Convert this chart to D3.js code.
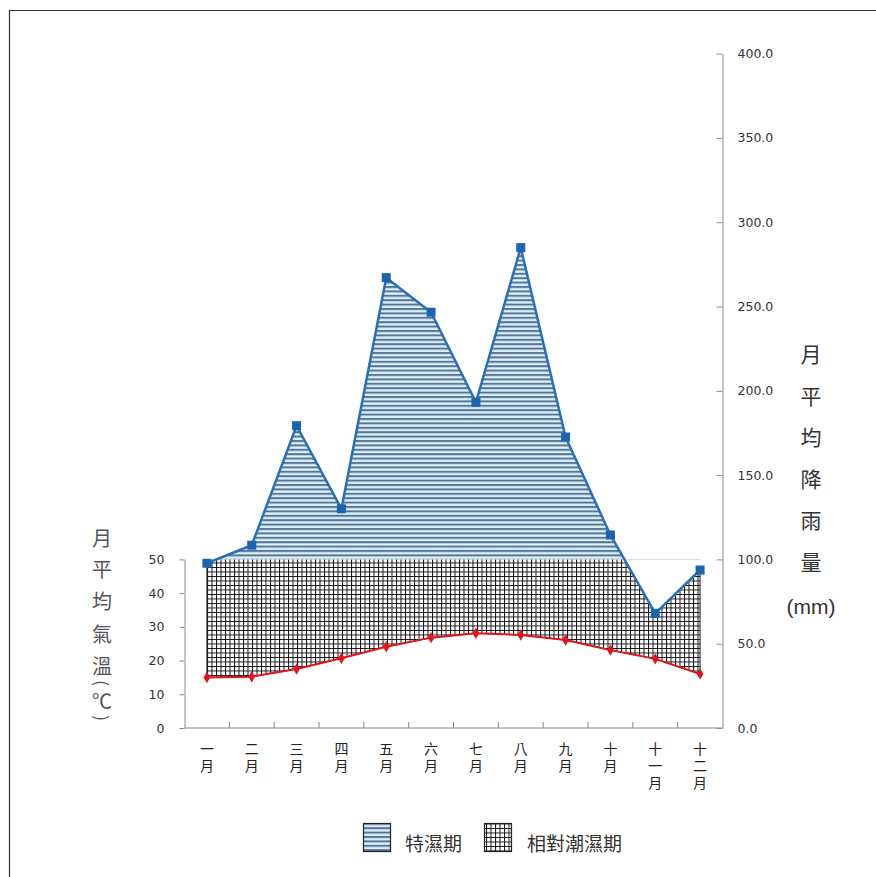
<!DOCTYPE html>
<html>
<head>
<meta charset="utf-8">
<script src="https://cdn.jsdelivr.net/npm/d3@7"></script>
<style>
  html, body { margin: 0; padding: 0; background: #fff; }
  svg { display: block; }
</style>
</head>
<body>
<div id="main"></div>
<script>
// data
const months = ['一月', '二月', '三月', '四月', '五月', '六月', '七月', '八月', '九月', '十月', '十一月', '十二月']
const rainfall = [97.7, 108.4, 179.3, 130.0, 267.1, 246.6, 193.2, 284.9, 172.6, 114.5, 68.0, 93.7]
const temperature = [15.0, 15.2, 17.5, 20.7, 24.1, 26.8, 28.1, 27.6, 26.1, 23.1, 20.5, 16.0]
const rainTicks = [0, 50, 100, 150, 200, 250, 300, 350, 400]
const tempTicks = [0, 10, 20, 30, 40, 50]
const wetLine = 100 // mm, equals 50 °C on the left scale
const leftTitle = ['月', '平', '均', '氣', '溫', '(', '℃', ')']
const rightTitle = ['月', '平', '均', '降', '雨', '量']
const legendItems = ['特濕期', '相對潮濕期']

const width = 876
const height = 877
const cjk = '"Noto Sans CJK TC", "Noto Sans CJK SC", sans-serif'
const num = '"DejaVu Sans", Verdana, sans-serif'

const svg = d3.select('#main').append('svg')
  .attr('width', width)
  .attr('height', height)

// frame, only top and left edges show in the picture
svg.append('path')
  .attr('d', `M9.5,${height} V10.5 H${width}`)
  .attr('fill', 'none')
  .attr('stroke', '#333')
  .attr('stroke-width', 1.2)

const defs = svg.append('defs')

// horizontal stripes
const stripes = defs.append('pattern')
  .attr('id', 'stripes')
  .attr('patternUnits', 'userSpaceOnUse')
  .attr('width', 8).attr('height', 4.4)
stripes.append('rect').attr('width', 8).attr('height', 4.4).attr('fill', '#dcf0f8')
stripes.append('rect').attr('y', 0).attr('width', 8).attr('height', 2).attr('fill', '#56759b')

// small square grid
const grid = defs.append('pattern')
  .attr('id', 'grid')
  .attr('patternUnits', 'userSpaceOnUse')
  .attr('width', 4.5).attr('height', 4.5)
grid.append('rect').attr('width', 4.5).attr('height', 4.5).attr('fill', '#fff')
grid.append('path')
  .attr('d', 'M0,0.5 H4.5 M0.5,0 V4.5')
  .attr('stroke', '#111')
  .attr('stroke-width', 1)

const x = d3.scaleBand().domain(months).range([184.5, 722.5])
const yRain = d3.scaleLinear().domain([0, 400]).range([728, 53.6])
const yTemp = d3.scaleLinear().domain([0, 50]).range([728, yRain(wetLine)])
const cx = d => x(d) + x.bandwidth() / 2

defs.append('clipPath').attr('id', 'above')
  .append('rect')
  .attr('x', 0).attr('y', 0)
  .attr('width', width).attr('height', yRain(wetLine))
defs.append('clipPath').attr('id', 'below')
  .append('rect')
  .attr('x', 0).attr('y', yRain(wetLine))
  .attr('width', width).attr('height', height)

const rows = months.map((m, i) => ({ m, rain: rainfall[i], temp: temperature[i] }))

// relatively humid period: between temperature and rainfall, below 100 mm
svg.append('path')
  .datum(rows)
  .attr('clip-path', 'url(#below)')
  .attr('d', d3.area()
    .x(d => cx(d.m))
    .y0(d => yTemp(d.temp))
    .y1(d => yRain(d.rain)))
  .attr('fill', 'url(#grid)')
  .attr('stroke', '#222')
  .attr('stroke-width', 1)

// very humid period: rainfall above 100 mm
svg.append('path')
  .datum(rows)
  .attr('clip-path', 'url(#above)')
  .attr('d', d3.area()
    .x(d => cx(d.m))
    .y0(yRain(wetLine))
    .y1(d => yRain(d.rain)))
  .attr('fill', 'url(#stripes)')

// axes
const axisColor = '#8a8a8a'

const left = svg.append('g')
  .attr('transform', 'translate(184.5,0)')
  .call(d3.axisLeft(yTemp).tickValues(tempTicks).tickFormat(d3.format('d'))
    .tickSizeInner(5).tickSizeOuter(0).tickPadding(15))
const right = svg.append('g')
  .attr('transform', 'translate(722.5,0)')
  .call(d3.axisRight(yRain).tickValues(rainTicks).tickFormat(d3.format('.1f'))
    .tickSizeInner(-6).tickSizeOuter(0).tickPadding(15))

for (const g of [left, right]) {
  g.select('.domain').attr('stroke', axisColor)
  g.selectAll('.tick line').attr('stroke', axisColor)
  g.selectAll('.tick text')
    .attr('fill', '#333')
    .style('font-family', num)
    .style('font-size', '12.5px')
}

// bottom axis with ticks on the category boundaries
svg.append('line')
  .attr('x1', 184.5).attr('x2', 722.5)
  .attr('y1', 728).attr('y2', 728)
  .attr('stroke', axisColor)
svg.append('g').selectAll('line')
  .data(months.slice(1))
  .join('line')
  .attr('x1', d => x(d)).attr('x2', d => x(d))
  .attr('y1', 722).attr('y2', 728)
  .attr('stroke', axisColor)

const monthLabels = svg.append('g')
  .style('font-family', cjk)
  .style('font-size', '14px')
  .attr('fill', '#222')
months.forEach(m => {
  Array.from(m).forEach((ch, j) => {
    monthLabels.append('text')
      .attr('x', cx(m))
      .attr('y', 748 + j * 17)
      .attr('text-anchor', 'middle')
      .attr('dominant-baseline', 'central')
      .text(ch)
  })
})

// lines and markers
const tempLine = d3.line().x(d => cx(d.m)).y(d => yTemp(d.temp))
const rainLine = d3.line().x(d => cx(d.m)).y(d => yRain(d.rain))

svg.append('path')
  .datum(rows)
  .attr('d', tempLine)
  .attr('fill', 'none')
  .attr('stroke', '#e3141b')
  .attr('stroke-width', 2)

svg.append('g').selectAll('path')
  .data(rows)
  .join('path')
  .attr('transform', d => `translate(${cx(d.m)},${yTemp(d.temp)})`)
  .attr('d', d3.symbol(d3.symbolDiamond, 38))
  .attr('fill', '#e3141b')

svg.append('path')
  .datum(rows)
  .attr('d', rainLine)
  .attr('fill', 'none')
  .attr('stroke', '#2a70b6')
  .attr('stroke-width', 2.5)

svg.append('g').selectAll('rect')
  .data(rows)
  .join('rect')
  .attr('x', d => cx(d.m) - 4.5)
  .attr('y', d => yRain(d.rain) - 4.5)
  .attr('width', 9).attr('height', 9)
  .attr('fill', '#1a64b0')

// axis titles, written top to bottom; the brackets lie on their side
const leftY = [537, 568, 600, 633, 665, 683, 700, 718]
svg.append('g')
  .style('font-family', cjk)
  .style('font-size', '20px')
  .attr('fill', '#555')
  .selectAll('text')
  .data(leftTitle)
  .join('text')
  .attr('text-anchor', 'middle')
  .attr('dominant-baseline', 'central')
  .attr('transform', (d, i) => `translate(102,${leftY[i]})` + (d === '(' || d === ')' ? ' rotate(90)' : ''))
  .style('font-size', d => (d === '(' || d === ')') ? '17px' : null)
  .text(d => d)

svg.append('g')
  .style('font-family', cjk)
  .style('font-size', '21px')
  .attr('fill', '#333')
  .selectAll('text')
  .data(rightTitle)
  .join('text')
  .attr('x', 811)
  .attr('y', (d, i) => 353 + i * 41.5)
  .attr('text-anchor', 'middle')
  .attr('dominant-baseline', 'central')
  .text(d => d)

svg.append('text')
  .attr('x', 811).attr('y', 606)
  .attr('text-anchor', 'middle')
  .attr('dominant-baseline', 'central')
  .style('font-family', '"Liberation Sans", Arial, sans-serif')
  .style('font-size', '21px')
  .attr('fill', '#333')
  .text('(mm)')

// legend
const legend = svg.append('g')
const swatches = [
  { x: 363, fill: 'url(#stripes)', tx: 405 },
  { x: 484, fill: 'url(#grid)', tx: 527 }
]
legendItems.forEach((label, i) => {
  const s = swatches[i]
  legend.append('rect')
    .attr('x', s.x + 0.5).attr('y', 823.5)
    .attr('width', 27).attr('height', 28)
    .attr('fill', s.fill)
    .attr('stroke', '#222')
    .attr('stroke-width', 1.2)
  legend.append('text')
    .attr('x', s.tx).attr('y', 842)
    .attr('dominant-baseline', 'central')
    .style('font-family', cjk)
    .style('font-size', '19px')
    .attr('fill', '#333')
    .text(label)
})
</script>
</body>
</html>
